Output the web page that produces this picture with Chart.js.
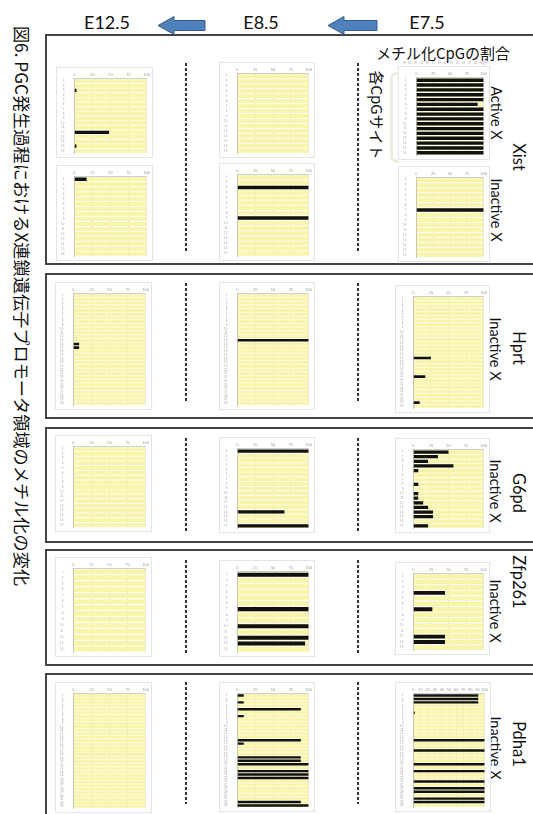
<!DOCTYPE html>
<html lang="ja">
<head>
<meta charset="utf-8">
<title>PGC発生過程におけるX連鎖遺伝子プロモータ領域のメチル化の変化</title>
<script src="https://cdn.jsdelivr.net/npm/chart.js@4.4.1/dist/chart.umd.min.js"></script>
<style>
  body { margin: 0; background: #fff; }
  #page { position: relative; width: 533px; height: 814px; overflow: hidden; font-family: Lato, "Noto Sans CJK JP", sans-serif; color: #111; }
  .box { position: absolute; left: 45px; width: 520px; border: 2px solid #444; box-sizing: border-box; }
  .dash { position: absolute; width: 2px; background: repeating-linear-gradient(to bottom, #333 0 3px, transparent 3px 5px); }
  .chart { position: absolute; background: #fff; border: 1px solid #e4e4e4; box-sizing: border-box; }
  .rot { position: absolute; white-space: nowrap; line-height: 1; transform: translate(-50%, -50%) rotate(90deg); }
  .stage { position: absolute; top: 22px; font-size: 18px; line-height: 1; transform: translate(-50%, -50%); }
  .jp { font-family: "Noto Sans CJK JP", sans-serif; }
</style>
</head>
<body>
<div id="page">
  <div class="rot jp" style="left:22px; top:306px; font-size:17.2px;">図6. PGC発生過程におけるX連鎖遺伝子プロモータ領域のメチル化の変化</div>

  <div class="stage" style="left:107px;">E12.5</div>
  <div class="stage" style="left:261px;">E8.5</div>
  <div class="stage" style="left:427px;">E7.5</div>
  <svg style="position:absolute; left:0; top:0;" width="533" height="40">
    <polygon points="158,25.5 174,16.5 174,20.5 205,20.5 205,30.5 174,30.5 174,34.5" fill="#4f81bd" stroke="#385d8a" stroke-width="1"/>
    <polygon points="328,25.5 344,16.5 344,20.5 377,20.5 377,30.5 344,30.5 344,34.5" fill="#4f81bd" stroke="#385d8a" stroke-width="1"/>
  </svg>

  <div class="box" style="top:34px; height:231px;"></div>
  <div class="box" style="top:273px; height:146px;"></div>
  <div class="box" style="top:427px; height:116px;"></div>
  <div class="box" style="top:549px; height:117px;"></div>
  <div class="box" style="top:673px; height:160px;"></div>

  <div class="jp" style="position:absolute; left:443px; top:52px; transform:translate(-50%,-50%); font-size:15px; line-height:1; white-space:nowrap;">メチル化CpGの割合</div>
  <div style="position:absolute; left:403px; top:61px; width:80px; border-top:3px dotted #e2e2e2;"></div>
  <div style="position:absolute; left:483px; top:58px; width:0; height:0; border-top:4px solid transparent; border-bottom:4px solid transparent; border-left:6px solid #e2e2e2;"></div>
  <div style="position:absolute; left:390px; top:72px; width:6px; height:85px; border:3px solid #eceee2; border-right:none; border-radius:7px 0 0 7px;"></div>
  <div class="rot jp" style="left:377px; top:115px; font-size:15px;">各CpGサイト</div>

  <div class="rot" style="left:496px; top:113px; font-size:14.5px;">Active X</div>
  <div class="rot" style="left:519px; top:157px; font-size:16.5px;">Xist</div>
  <div class="rot" style="left:496px; top:210px; font-size:14.5px;">Inactive X</div>
  <div class="rot" style="left:519px; top:348px; font-size:16.5px;">Hprt</div>
  <div class="rot" style="left:495px; top:349px; font-size:14.5px;">Inactive X</div>
  <div class="rot" style="left:519px; top:493px; font-size:16.5px;">G6pd</div>
  <div class="rot" style="left:495px; top:491px; font-size:14.5px;">Inactive X</div>
  <div class="rot" style="left:519px; top:582px; font-size:16.5px;">Zfp261</div>
  <div class="rot" style="left:495px; top:611px; font-size:14.5px;">Inactive X</div>
  <div class="rot" style="left:519px; top:744px; font-size:16.5px;">Pdha1</div>
  <div class="rot" style="left:495px; top:748px; font-size:14.5px;">Inactive X</div>
</div>

<script>
// x axis: % methylated CpG
const pctTicks = [0, 25, 50, 75, 100];
const pctTicksFine = [0, 10, 20, 30, 40, 50, 60, 70, 80, 90, 100];

// CpG sites (categories)
const siteLabels = n => Array.from({ length: n }, (_, i) => String(i + 1));
const xistSites = siteLabels(16);
const hprtSites = siteLabels(30);
const g6pdSites = siteLabels(17);
const zfp261Sites = siteLabels(14);
const pdha1Sites = siteLabels(33);

// Xist
const xistE125Active = [0, 0, 3, 0, 0, 0, 0, 0, 0, 0, 0, 48, 0, 0, 3, 0];
const xistE125Inactive = [17, 0, 0, 0, 0, 0, 0, 0, 0, 0, 0, 0, 0, 0, 0, 0];
const xistE85Active = [0, 0, 0, 0, 0, 0, 0, 0, 0, 0, 0, 0, 0, 0, 0, 0];
const xistE85Inactive = [0, 0, 100, 0, 0, 0, 0, 0, 100, 0, 0, 0, 0, 0, 0, 0];
const xistE75Active = [100, 100, 100, 100, 100, 91, 100, 100, 100, 100, 100, 100, 100, 100, 100, 100];
const xistE75Inactive = [0, 0, 0, 0, 0, 0, 100, 0, 0, 0, 0, 0, 0, 0, 0, 0];

// Hprt
const hprtE125 = [0, 0, 0, 0, 0, 0, 0, 0, 0, 0, 0, 0, 0, 8, 8, 0, 0, 0, 0, 0, 0, 0, 0, 0, 0, 0, 0, 0, 0, 0];
const hprtE85 = [0, 0, 0, 0, 0, 0, 0, 0, 0, 0, 0, 0, 100, 0, 0, 0, 0, 0, 0, 0, 0, 0, 0, 0, 0, 0, 0, 0, 0, 0];
const hprtE75 = [0, 0, 0, 0, 0, 0, 0, 0, 0, 0, 0, 0, 0, 0, 0, 0, 25, 0, 0, 0, 0, 17, 0, 0, 0, 0, 0, 0, 9, 0];

// G6pd
const g6pdE125 = [0, 0, 0, 0, 0, 0, 0, 0, 0, 0, 0, 0, 0, 0, 0, 0, 0];
const g6pdE85 = [100, 0, 0, 0, 0, 0, 0, 0, 0, 0, 0, 0, 0, 66, 0, 0, 100];
const g6pdE75 = [50, 35, 21, 57, 7, 0, 0, 7, 0, 7, 7, 14, 21, 28, 28, 0, 21];

// Zfp261
const zfp261E125 = [0, 0, 0, 0, 0, 0, 0, 0, 0, 0, 0, 0, 0, 0];
const zfp261E85 = [100, 0, 0, 0, 0, 0, 100, 0, 0, 100, 0, 100, 95, 0];
const zfp261E75 = [0, 0, 0, 45, 0, 0, 27, 0, 0, 0, 0, 45, 45, 0];

// Pdha1
const pdha1E125 = [0, 0, 0, 0, 0, 0, 0, 0, 0, 0, 0, 0, 0, 0, 0, 0, 0, 0, 0, 0, 0, 0, 0, 0, 0, 0, 0, 0, 0, 0, 0, 0, 0];
const pdha1E85 = [9, 0, 9, 0, 89, 0, 9, 0, 0, 0, 0, 0, 0, 89, 9, 0, 0, 0, 89, 89, 100, 0, 100, 100, 100, 0, 0, 0, 0, 0, 0, 89, 100];
const pdha1E75 = [91, 91, 91, 0, 0, 2, 0, 0, 0, 0, 0, 0, 0, 100, 0, 0, 100, 0, 0, 0, 100, 0, 100, 0, 0, 100, 0, 100, 100, 0, 100, 100, 0];

const panels = [
    { left: 56, top: 67, w: 97, h: 91, sites: xistSites, values: xistE125Active, ticks: pctTicks },
    { left: 56, top: 165, w: 97, h: 96, sites: xistSites, values: xistE125Inactive, ticks: pctTicks },
    { left: 219, top: 62, w: 96, h: 96, sites: xistSites, values: xistE85Active, ticks: pctTicks },
    { left: 219, top: 163, w: 96, h: 98, sites: xistSites, values: xistE85Inactive, ticks: pctTicks },
    { left: 398, top: 66, w: 92, h: 94, sites: xistSites, values: xistE75Active, ticks: pctTicks },
    { left: 398, top: 166, w: 92, h: 96, sites: xistSites, values: xistE75Inactive, ticks: pctTicks },

    { left: 55, top: 282, w: 97, h: 128, sites: hprtSites, values: hprtE125, ticks: pctTicks },
    { left: 219, top: 282, w: 96, h: 128, sites: hprtSites, values: hprtE85, ticks: pctTicks },
    { left: 395, top: 285, w: 95, h: 128, sites: hprtSites, values: hprtE75, ticks: pctTicks },

    { left: 55, top: 435, w: 97, h: 97, sites: g6pdSites, values: g6pdE125, ticks: pctTicks },
    { left: 219, top: 437, w: 96, h: 96, sites: g6pdSites, values: g6pdE85, ticks: pctTicks },
    { left: 395, top: 438, w: 95, h: 95, sites: g6pdSites, values: g6pdE75, ticks: pctTicks },

    { left: 55, top: 557, w: 97, h: 100, sites: zfp261Sites, values: zfp261E125, ticks: pctTicks },
    { left: 219, top: 560, w: 96, h: 97, sites: zfp261Sites, values: zfp261E85, ticks: pctTicks },
    { left: 395, top: 562, w: 95, h: 93, sites: zfp261Sites, values: zfp261E75, ticks: pctTicks },

    { left: 55, top: 682, w: 97, h: 131, sites: pdha1Sites, values: pdha1E125, ticks: pctTicks },
    { left: 219, top: 682, w: 96, h: 130, sites: pdha1Sites, values: pdha1E85, ticks: pctTicks },
    { left: 395, top: 682, w: 96, h: 130, sites: pdha1Sites, values: pdha1E75, ticks: pctTicksFine }
];

// dashed separators between stages, one pair per gene box
const dashSpans = [[63, 252], [283, 403], [438, 531], [560, 654], [682, 804]];

const page = document.getElementById('page');

dashSpans.forEach(([y0, y1]) => {
    [185, 357].forEach(x => {
        const d = document.createElement('div');
        d.className = 'dash';
        d.style.left = x + 'px';
        d.style.top = y0 + 'px';
        d.style.height = (y1 - y0) + 'px';
        page.appendChild(d);
    });
});

function drawSiteChart(canvas, sites, values, ticks) {
    new Chart(canvas, {
        type: 'bar',
        data: {
            labels: sites,
            datasets: [
                {
                    label: 'メチル化CpG',
                    data: values,
                    backgroundColor: '#111111',
                    barPercentage: 0.7,
                    categoryPercentage: 1,
                    grouped: false,
                    order: 0
                },
                {
                    label: '非メチル化',
                    data: sites.map(() => 100),
                    backgroundColor: '#f8f4a8',
                    barPercentage: 0.8,
                    categoryPercentage: 1,
                    grouped: false,
                    order: 1
                }
            ]
        },
        options: {
            indexAxis: 'y',
            responsive: true,
            maintainAspectRatio: false,
            animation: false,
            devicePixelRatio: 1,
            layout: { padding: { top: 2, right: 4, bottom: 3, left: 2 } },
            plugins: { legend: { display: false }, tooltip: { enabled: false } },
            scales: {
                x: {
                    position: 'top',
                    min: 0,
                    max: 100,
                    afterBuildTicks: axis => { axis.ticks = ticks.map(v => ({ value: v })); },
                    grid: { color: '#cfcfcf', lineWidth: 0.6, drawTicks: false },
                    border: { color: '#cfcfcf' },
                    ticks: { font: { size: 4 }, color: '#999999', padding: 2, maxRotation: 0, autoSkip: false }
                },
                y: {
                    grid: { display: false },
                    border: { color: '#bdbdbd' },
                    ticks: { font: { size: 3 }, color: '#a5a5a5', padding: 2, autoSkip: false }
                }
            }
        }
    });
}

panels.forEach(p => {
    const wrap = document.createElement('div');
    wrap.className = 'chart';
    wrap.style.left = p.left + 'px';
    wrap.style.top = p.top + 'px';
    wrap.style.width = p.w + 'px';
    wrap.style.height = p.h + 'px';
    const canvas = document.createElement('canvas');
    wrap.appendChild(canvas);
    page.appendChild(wrap);
    drawSiteChart(canvas, p.sites, p.values, p.ticks);
});
</script>
</body>
</html>
